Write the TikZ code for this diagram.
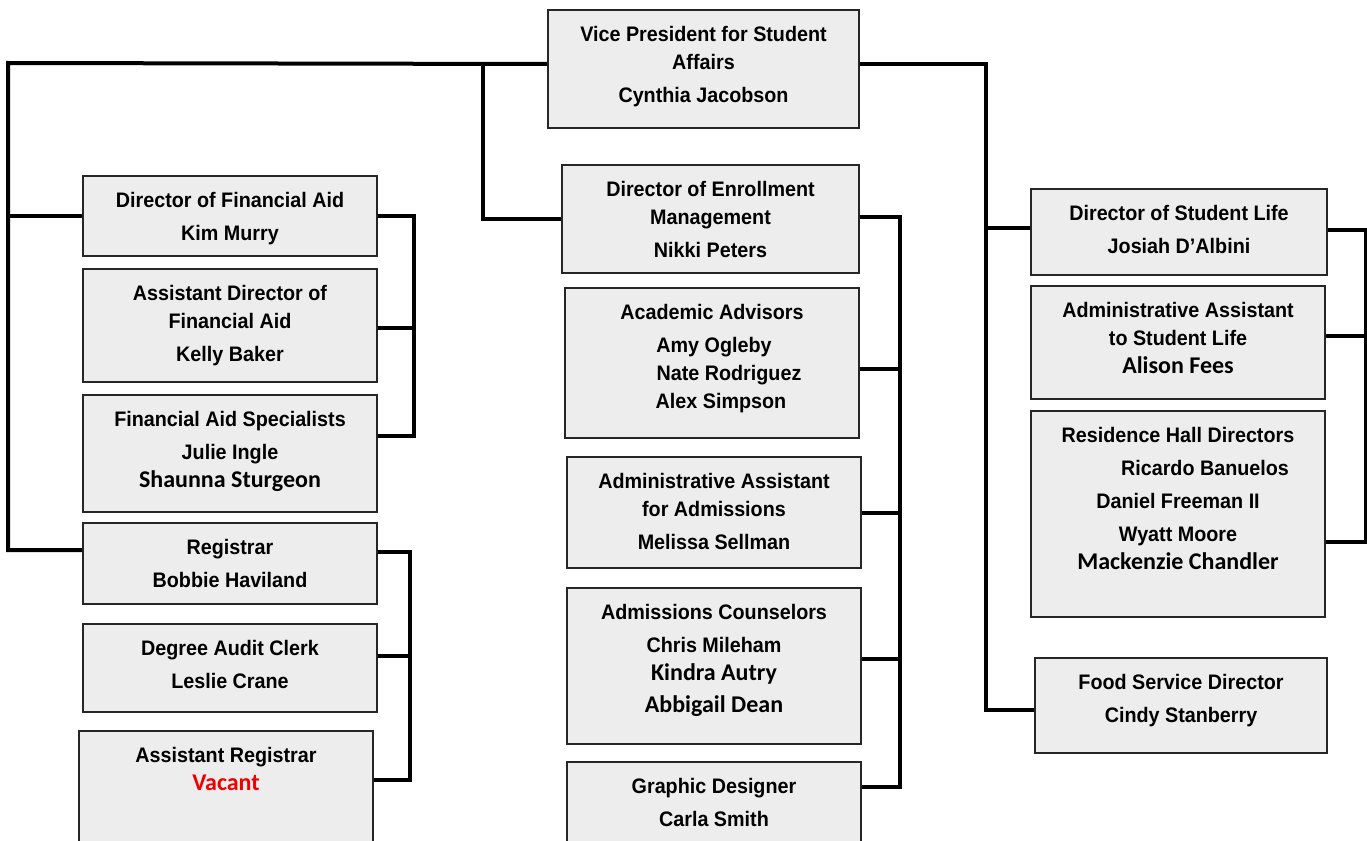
\documentclass[tikz,border=0pt]{standalone}
\usepackage{fontspec}
\setmainfont[FakeStretch=0.94]{Liberation Sans}
\newfontfamily\calibfont{Carlito}
\definecolor{boxfill}{HTML}{EDEDED}
\definecolor{boxline}{HTML}{262626}
\definecolor{vacant}{HTML}{F00000}
\newcommand{\cnm}[1]{{\fontsize{24}{28}\selectfont\calibfont #1}}

\tikzset{
  box/.style={draw=boxline, fill=boxfill, line width=2pt, inner sep=0pt, anchor=north west},
  txt/.style={anchor=north, inner sep=0pt, align=center, font=\fontsize{21}{28}\selectfont\bfseries},
  conn/.style={line width=4pt},
}

\begin{document}
\begin{tikzpicture}[x=1pt,y=-1pt]
  \clip (0,0) rectangle (1367,840);
  % top
  \node[box, minimum width=311, minimum height=118] (vp) at (547,9) {};
  \node[txt] (vpt) at ([yshift=-17pt]vp.north) {Vice President for Student\\Affairs\\[5pt]Cynthia Jacobson};

  % financial aid and registrar
  \node[box, minimum width=294, minimum height=80] (fad) at (82,175) {};
  \node[txt] (fadt) at ([yshift=-17pt]fad.north) {Director of Financial Aid\\[5pt]Kim Murry};
  \node[box, minimum width=294, minimum height=113] (fasst) at (82,268) {};
  \node[txt] (fasstt) at ([yshift=-17pt]fasst.north) {Assistant Director of\\Financial Aid\\[5pt]Kelly Baker};
  \node[box, minimum width=294, minimum height=117] (fas) at (82,394) {};
  \node[txt] (fast) at ([yshift=-17pt]fas.north) {Financial Aid Specialists\\[5pt]Julie Ingle\\\cnm{Shaunna Sturgeon}};
  \node[box, minimum width=294, minimum height=81] (reg) at (82,522) {};
  \node[txt] (regt) at ([yshift=-17pt]reg.north) {Registrar\\[5pt]Bobbie Haviland};
  \node[box, minimum width=294, minimum height=88] (dac) at (82,623) {};
  \node[txt] (dact) at ([yshift=-17pt]dac.north) {Degree Audit Clerk\\[5pt]Leslie Crane};
  \node[box, minimum width=294, minimum height=130] (areg) at (78,730) {};
  \node[txt] (aregt) at ([yshift=-17pt]areg.north) {Assistant Registrar\\\cnm{\color{vacant}Vacant}};

  % enrollment
  \node[box, minimum width=297, minimum height=108] (dem) at (561,164) {};
  \node[txt] (demt) at ([yshift=-17pt]dem.north) {Director of Enrollment\\Management\\[5pt]Nikki Peters};
  \node[box, minimum width=294, minimum height=150] (aa) at (564,287) {};
  \node[txt] (aat) at ([yshift=-17pt]aa.north) {Academic Advisors\\[5pt]\hspace*{4pt}Amy Ogleby\\\hspace*{34pt}Nate Rodriguez\\\hspace*{18pt}Alex Simpson};
  \node[box, minimum width=294, minimum height=111] (aaad) at (566,456) {};
  \node[txt] (aaadt) at ([yshift=-17pt]aaad.north) {Administrative Assistant\\for Admissions\\[5pt]Melissa Sellman};
  \node[box, minimum width=294, minimum height=156] (ac) at (566,587) {};
  \node[txt] (act) at ([yshift=-17pt]ac.north) {Admissions Counselors\\[5pt]Chris Mileham\\\cnm{Kindra Autry}\\[4pt]\cnm{Abbigail Dean}};
  \node[box, minimum width=294, minimum height=100] (gd) at (566,761) {};
  \node[txt] (gdt) at ([yshift=-17pt]gd.north) {Graphic Designer\\[5pt]Carla Smith};

  % student life
  \node[box, minimum width=296, minimum height=86] (dsl) at (1030,188) {};
  \node[txt] (dslt) at ([yshift=-17pt]dsl.north) {Director of Student Life\\[5pt]Josiah D’Albini};
  \node[box, minimum width=294, minimum height=113] (aasl) at (1030,285) {};
  \node[txt] (aaslt) at ([yshift=-17pt]aasl.north) {Administrative Assistant\\to Student Life\\\cnm{Alison Fees}};
  \node[box, minimum width=294, minimum height=206] (rhd) at (1030,410) {};
  \node[txt] (rhdt) at ([yshift=-17pt]rhd.north) {Residence Hall Directors\\[5pt]\hspace*{54pt}Ricardo Banuelos\\[5pt]Daniel Freeman II\\[5pt]Wyatt Moore\\\cnm{Mackenzie Chandler}};
  \node[box, minimum width=292, minimum height=95] (food) at (1034,657) {};
  \node[txt] (foodt) at ([yshift=-17pt]food.north) {Food Service Director\\[5pt]Cindy Stanberry};

  % lines from the top
  \coordinate (ltop) at (8,63);
  \coordinate (lbot) at (8,550);
  \coordinate (mtop) at (483,63);
  \coordinate (rbot) at (986,710);
  \draw[conn] ([yshift=5pt]vp.west) -- (ltop) -- (lbot) -- (lbot -| reg.west);
  \draw[conn] (ltop |- fad.west) -- (fad.west);
  \draw[conn] (mtop) |- (dem.west);
  \draw[conn] ([yshift=5pt]vp.east) -| (rbot) -- (rbot -| food.west);
  \draw[conn] (rbot |- 0,228) -- (dsl.west |- 0,228);

  % brackets
  \coordinate (fabot) at (414,436);
  \draw[conn] (fad.east) -| (fabot) -- (fabot -| fas.east);
  \draw[conn] (fabot |- 0,328) -- (fasst.east |- 0,328);
  \coordinate (rgtop) at (410,552);
  \coordinate (rgbot) at (410,780);
  \draw[conn] (rgtop -| reg.east) -- (rgtop) -- (rgbot) -- (rgbot -| areg.east);
  \draw[conn] (rgtop |- 0,656) -- (dac.east |- 0,656);
  \coordinate (embot) at (900,787);
  \draw[conn] ([yshift=2pt]dem.east) -| (embot) -- (embot -| gd.east);
  \draw[conn] (embot |- 0,369) -- (aa.east |- 0,369);
  \draw[conn] (embot |- aaad.east) -- (aaad.east);
  \draw[conn] (embot |- 0,659) -- (ac.east |- 0,659);
  \coordinate (slbot) at (1366,542);
  \draw[conn] ([yshift=2pt]dsl.east) -| (slbot) -- (slbot -| rhd.east);
  \draw[conn] (slbot |- 0,336) -- (aasl.east |- 0,336);
\end{tikzpicture}
\end{document}
